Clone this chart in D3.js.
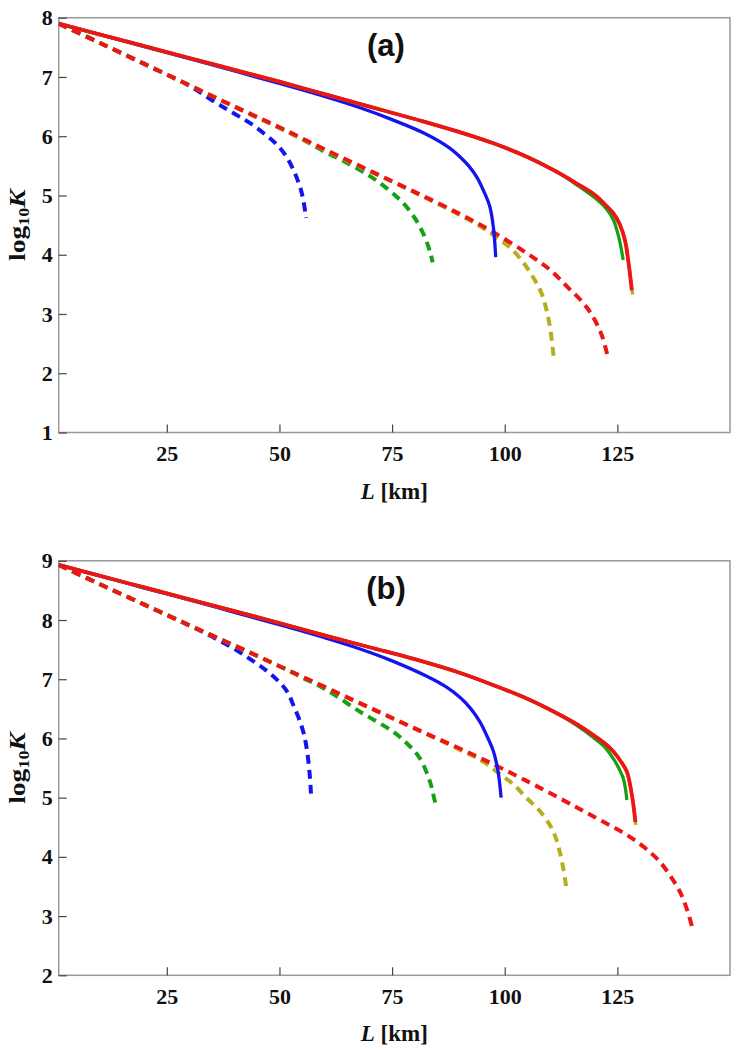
<!DOCTYPE html>
<html><head><meta charset="utf-8">
<script src="https://cdn.jsdelivr.net/npm/d3@7"></script>
<style>body{margin:0;background:#fff}</style>
</head><body>
<svg id="c" width="737" height="1050" xmlns="http://www.w3.org/2000/svg"></svg>
<script>
// ---------- data ----------
const xTicks = [25, 50, 75, 100, 125];
const yTicksA = [1, 2, 3, 4, 5, 6, 7, 8];
const yTicksB = [2, 3, 4, 5, 6, 7, 8, 9];
const panelLabels = ["(a)", "(b)"];

// Panel (a): [L km, log10 K]
const aBlueSolid = [[1,7.90],[10,7.72],[20,7.51],[30,7.31],[40,7.10],[50,6.89],[60,6.67],[67.9,6.48],[75,6.28],[82.7,6.03],[87.8,5.80],[90.1,5.65],[92,5.50],[93.8,5.31],[95.3,5.08],[96.7,4.81],[97.5,4.45],[98.0,3.96]];
const aGreenSolid = [[1,7.90],[10,7.72],[20,7.52],[30,7.32],[40,7.12],[50,6.92],[60,6.71],[70,6.50],[80,6.29],[90,6.07],[97.5,5.88],[105,5.65],[112,5.38],[116,5.18],[120,4.96],[122.5,4.78],[124.1,4.59],[125.3,4.30],[126.3,3.91]];
const aOliveSolid = [[1,7.90],[10,7.72],[20,7.52],[30,7.32],[40,7.12],[50,6.92],[60,6.71],[70,6.50],[80,6.29],[90,6.07],[97.5,5.88],[105,5.65],[112,5.38],[116,5.20],[120,5.01],[122.5,4.83],[124.1,4.70],[125.5,4.52],[126.7,4.24],[127.6,3.80],[128.4,3.33]];
const aRedSolid = [[1,7.90],[10,7.72],[20,7.52],[30,7.32],[40,7.12],[50,6.92],[60,6.71],[70,6.50],[80,6.29],[90,6.07],[97.5,5.88],[105,5.65],[112,5.38],[116,5.20],[120,5.01],[122.5,4.83],[124.1,4.70],[125.5,4.52],[126.7,4.24],[127.5,3.85],[128.2,3.40]];
const aBlueDashed = [[1,7.90],[10,7.58],[20,7.22],[30,6.85],[36,6.56],[40,6.38],[43.5,6.22],[47,6.02],[49.4,5.86],[51.5,5.66],[53.1,5.43],[54.5,5.16],[55.3,4.92],[55.9,4.62]];
const aGreenDashed = [[1,7.90],[10,7.58],[20,7.22],[30,6.86],[40,6.50],[50,6.14],[55,5.95],[60,5.74],[65,5.55],[70,5.33],[73,5.17],[76,4.98],[78.2,4.81],[80.2,4.60],[81.9,4.36],[83,4.15],[83.6,4.00],[84.0,3.87]];
const aOliveDashed = [[1,7.90],[10,7.58],[20,7.22],[30,6.86],[40,6.50],[50,6.14],[60,5.77],[70,5.41],[80,5.05],[90,4.67],[95,4.46],[98,4.30],[101.2,4.12],[104,3.88],[106.3,3.62],[108,3.38],[109.3,3.06],[110.2,2.70],[110.9,2.24]];
const aRedDashed = [[1,7.90],[10,7.58],[20,7.22],[30,6.86],[40,6.50],[50,6.15],[60,5.78],[70,5.42],[80,5.06],[90,4.69],[97.5,4.38],[105,4.02],[110,3.75],[114,3.45],[117.5,3.18],[119.6,2.95],[121.5,2.65],[123,2.24]];

// Panel (b)
const bBlueSolid = [[1,8.93],[10,8.75],[20,8.54],[30,8.34],[40,8.13],[50,7.92],[60,7.70],[67.9,7.51],[75,7.31],[82.7,7.05],[87,6.87],[90.1,6.69],[92.5,6.50],[94.5,6.28],[96,6.05],[97.5,5.78],[98.5,5.45],[99.2,5.00]];
const bGreenSolid = [[1,8.93],[10,8.75],[20,8.55],[30,8.35],[40,8.15],[50,7.95],[60,7.74],[70,7.54],[80,7.34],[90,7.11],[97.5,6.90],[105,6.67],[112.2,6.40],[116,6.22],[119.6,6.02],[122,5.87],[124.1,5.66],[125.3,5.50],[126.3,5.33],[126.8,5.15],[127.1,4.96]];
const bOliveSolid = [[1,8.93],[10,8.75],[20,8.55],[30,8.35],[40,8.15],[50,7.95],[60,7.74],[70,7.54],[80,7.34],[90,7.11],[97.5,6.90],[105,6.67],[112.2,6.40],[116,6.24],[119.6,6.06],[122,5.93],[124.1,5.78],[125.7,5.62],[127.1,5.44],[128.1,5.10],[128.7,4.80],[129.1,4.54]];
const bRedSolid = [[1,8.93],[10,8.75],[20,8.55],[30,8.35],[40,8.15],[50,7.95],[60,7.74],[70,7.54],[80,7.34],[90,7.11],[97.5,6.90],[105,6.67],[112.2,6.40],[116,6.24],[119.6,6.06],[122,5.93],[124.1,5.78],[125.7,5.62],[127.1,5.44],[128.1,5.10],[128.6,4.85],[129.0,4.59]];
const bBlueDashed = [[1,8.93],[10,8.61],[20,8.26],[30,7.91],[35,7.72],[39.8,7.52],[43.5,7.34],[47.2,7.14],[50,6.95],[51.8,6.78],[53.1,6.56],[54.5,6.30],[55.5,6.05],[56.2,5.75],[56.7,5.40],[57.0,5.07]];
const bGreenDashed = [[1,8.93],[10,8.61],[20,8.26],[30,7.91],[40,7.57],[50,7.22],[55,7.03],[60,6.84],[67.9,6.45],[75.3,6.11],[78.5,5.90],[81.2,5.66],[83.4,5.27],[84.3,5.00],[84.9,4.82]];
const bOliveDashed = [[1,8.93],[10,8.61],[20,8.26],[30,7.91],[40,7.57],[50,7.22],[60,6.87],[70,6.52],[80,6.17],[90,5.81],[95,5.62],[98.9,5.40],[102,5.22],[104.9,4.99],[107.5,4.80],[110,4.54],[111.3,4.33],[112.2,4.09],[113,3.80],[113.7,3.47]];
const bRedDashed = [[1,8.93],[10,8.61],[20,8.26],[30,7.91],[40,7.57],[50,7.22],[60,6.87],[70,6.52],[80,6.17],[90,5.83],[100,5.47],[112.2,4.99],[120,4.67],[127.1,4.37],[131,4.16],[134.4,3.92],[137,3.65],[138.9,3.41],[140.5,3.10],[141.8,2.76]];

// ---------- styling ----------
const colors = {blue:"#1414ee", green:"#16a016", olive:"#b5ae1e", red:"#ee1515"};
const serif = "'Liberation Serif','Times New Roman',Times,serif";
const sans = "'Liberation Sans',Arial,sans-serif";

const panels = [
  {label: panelLabels[0], top: 17.7, bottom: 432.5, yDomain: [1, 8], yTicks: yTicksA,
   dashed: [["blue", aBlueDashed], ["green", aGreenDashed], ["olive", aOliveDashed], ["red", aRedDashed]],
   solid: [["blue", aBlueSolid], ["olive", aOliveSolid], ["green", aGreenSolid], ["red", aRedSolid]]},
  {label: panelLabels[1], top: 560.8, bottom: 975.3, yDomain: [2, 9], yTicks: yTicksB,
   dashed: [["blue", bBlueDashed], ["green", bGreenDashed], ["olive", bOliveDashed], ["red", bRedDashed]],
   solid: [["blue", bBlueSolid], ["olive", bOliveSolid], ["green", bGreenSolid], ["red", bRedSolid]]}
];

const svg = d3.select("#c");
svg.append("rect").attr("width", 737).attr("height", 1050).attr("fill", "#fff");

const left = 58.7, right = 730;
const x = d3.scaleLinear().domain([1, 150]).range([left, right]);

panels.forEach(p => {
  const y = d3.scaleLinear().domain(p.yDomain).range([p.bottom, p.top]);
  const g = svg.append("g");
  const clipId = "clip" + p.label.replace(/\W/g, "");
  svg.append("clipPath").attr("id", clipId).append("rect")
    .attr("x", left).attr("y", p.top).attr("width", right - left).attr("height", p.bottom - p.top);

  // frame
  g.append("rect").attr("x", left).attr("y", p.top).attr("width", right - left).attr("height", p.bottom - p.top)
    .attr("fill", "none").attr("stroke", "#999").attr("stroke-width", 1.5);

  // axes
  const xa = g.append("g").attr("transform", `translate(0,${p.bottom})`)
    .call(d3.axisBottom(x).tickValues(xTicks).tickSize(-8).tickPadding(13).tickFormat(d3.format("d")));
  const ya = g.append("g").attr("transform", `translate(${left},0)`)
    .call(d3.axisLeft(y).tickValues(p.yTicks).tickSize(-8).tickPadding(6).tickFormat(d3.format("d")));
  [xa, ya].forEach(a => {
    a.attr("font-family", null).attr("font-size", null);
    a.select(".domain").remove();
    a.selectAll(".tick line").attr("stroke", "#444").attr("stroke-width", 1.2);
    a.selectAll(".tick text").style("font-family", serif).style("font-weight", "bold")
      .style("font-size", "22px").attr("fill", "#111");
  });

  const line = d3.line().x(d => x(d[0])).y(d => y(d[1])).curve(d3.curveCatmullRom.alpha(0.5));
  const lg = g.append("g").attr("clip-path", `url(#${clipId})`);
  p.dashed.forEach(([c, data]) => {
    lg.append("path").datum(data).attr("d", line).attr("fill", "none")
      .attr("stroke", colors[c]).attr("stroke-width", 4).attr("stroke-dasharray", "9,6");
  });
  p.solid.forEach(([c, data]) => {
    lg.append("path").datum(data).attr("d", line).attr("fill", "none")
      .attr("stroke", colors[c]).attr("stroke-width", c === "red" ? 3.8 : 3.3);
  });

  // panel label
  g.append("text").attr("x", 386).attr("y", p.top + 38).attr("text-anchor", "middle")
    .style("font-family", sans).style("font-weight", "bold").style("font-size", "31px").attr("fill", "#111")
    .text(p.label);

  // x title
  const xt = g.append("text").attr("x", (left + right) / 2).attr("y", p.bottom + 66).attr("text-anchor", "middle")
    .style("font-family", serif).style("font-weight", "bold").style("font-size", "23px").attr("fill", "#111");
  xt.append("tspan").style("font-style", "italic").text("L");
  xt.append("tspan").text(" [km]");

  // y title
  const cy = (p.top + p.bottom) / 2;
  const yt = g.append("text").attr("transform", `translate(25,${cy}) rotate(-90) scale(1.2,1)`).attr("text-anchor", "middle")
    .style("font-family", serif).style("font-weight", "bold").style("font-size", "23px").attr("fill", "#111");
  yt.append("tspan").text("log");
  yt.append("tspan").style("font-size", "15px").attr("dy", 4).text("10");
  yt.append("tspan").style("font-style", "italic").attr("dy", -4).text("K");
});
</script>
</body></html>
